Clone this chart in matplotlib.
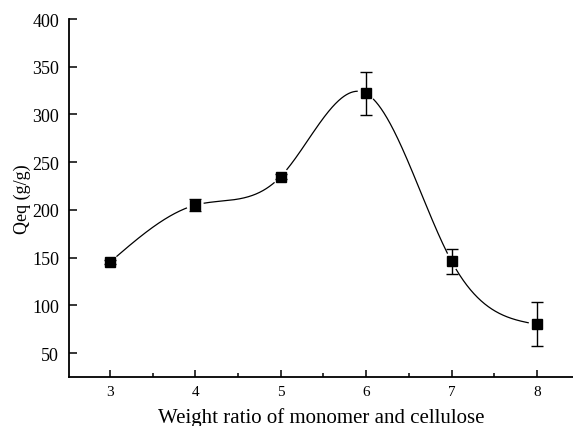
import numpy as np
import matplotlib
matplotlib.use("Agg")
import matplotlib.pyplot as plt
from matplotlib.ticker import MultipleLocator

# Swelling capacity vs. monomer/cellulose weight ratio
ratio = [3, 4, 5, 6, 7, 8]
qeq = [145, 205, 235, 322, 146, 80]
qeq_err = [2, 6, 3, 23, 13, 23]


def natural_spline(x, y, xs):
    x = np.asarray(x, float)
    y = np.asarray(y, float)
    n = len(x)
    h = np.diff(x)
    A = np.zeros((n, n))
    b = np.zeros(n)
    A[0, 0] = A[-1, -1] = 1.0
    for i in range(1, n - 1):
        A[i, i - 1] = h[i - 1]
        A[i, i] = 2 * (h[i - 1] + h[i])
        A[i, i + 1] = h[i]
        b[i] = 6 * ((y[i + 1] - y[i]) / h[i] - (y[i] - y[i - 1]) / h[i - 1])
    M = np.linalg.solve(A, b)
    idx = np.clip(np.searchsorted(x, xs) - 1, 0, n - 2)
    x0, x1 = x[idx], x[idx + 1]
    hh = x1 - x0
    t0 = x1 - xs
    t1 = xs - x0
    return (M[idx] * t0**3 / (6 * hh) + M[idx + 1] * t1**3 / (6 * hh)
            + (y[idx] / hh - M[idx] * hh / 6) * t0
            + (y[idx + 1] / hh - M[idx + 1] * hh / 6) * t1)


plt.rcParams["font.family"] = ["Liberation Serif", "DejaVu Serif"]

fig = plt.figure(figsize=(5.73, 4.27), dpi=100)
ax = fig.add_axes([0.120, 0.115, 0.880, 0.838])
ax.set_xlim(2.52, 8.42)
ax.set_ylim(25, 400)

# smooth curve, broken slightly around each marker
xs = np.linspace(ratio[0], ratio[-1], 1200)
ys = natural_spline(ratio, qeq, xs)
curve_px = ax.transData.transform(np.column_stack([xs, ys]))
pts_px = ax.transData.transform(np.column_stack([ratio, qeq]))
dist = np.min(np.hypot(curve_px[:, None, 0] - pts_px[None, :, 0],
                       curve_px[:, None, 1] - pts_px[None, :, 1]), axis=1)
ys_gap = np.where(dist < 9, np.nan, ys)
ax.plot(xs, ys_gap, color="black", lw=0.9)

ax.errorbar(ratio, qeq, yerr=qeq_err, fmt="s", color="black",
            markersize=6.5, ecolor="black", elinewidth=1.0,
            capsize=4.5, capthick=1.0)

ax.xaxis.set_major_locator(MultipleLocator(1))
ax.xaxis.set_minor_locator(MultipleLocator(0.5))
ax.set_yticks([50, 100, 150, 200, 250, 300, 350, 400])

for s in ("top", "right"):
    ax.spines[s].set_visible(False)
for s in ("left", "bottom"):
    ax.spines[s].set_linewidth(1.3)

ax.tick_params(axis="x", which="major", direction="in", length=5,
               width=1.1, labelsize=11, pad=6)
ax.tick_params(axis="x", which="minor", direction="in", length=3, width=1.1)
ax.tick_params(axis="y", which="major", direction="in", length=6,
               width=1.1, labelsize=13, pad=7)

ax.set_xlabel("Weight ratio of monomer and cellulose", fontsize=15, labelpad=6.5)
ax.set_ylabel("Qeq (g/g)", fontsize=13, labelpad=1)

fig.savefig("out.png", dpi=100)
